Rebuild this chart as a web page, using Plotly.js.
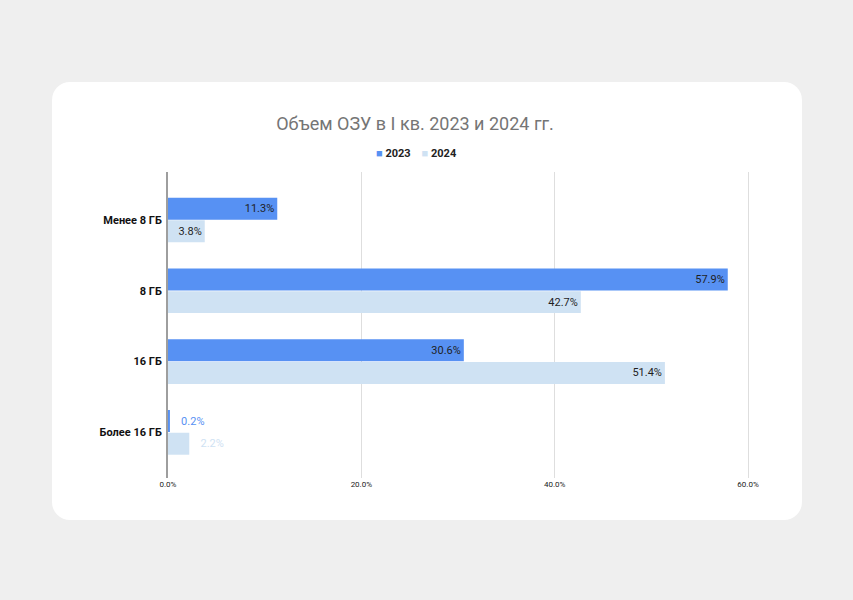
<!DOCTYPE html>
<html>
<head>
<meta charset="utf-8">
<script src="https://cdn.plot.ly/plotly-3.0.1.min.js"></script>
<style>
  html, body { margin: 0; padding: 0; background: #efefef; width: 853px; height: 600px; overflow: hidden; }
  #card { position: absolute; left: 52px; top: 82px; width: 750px; height: 438px; background: #ffffff; border-radius: 18px; }
  #chart { position: absolute; left: 0; top: 0; width: 853px; height: 600px; }
</style>
</head>
<body>
<div id="card"></div>
<div id="chart"></div>
<script>
const categories = ["Менее 8 ГБ", "8 ГБ", "16 ГБ", "Более 16 ГБ"];
const values2023 = [11.3, 57.9, 30.6, 0.2];
const values2024 = [3.8, 42.7, 51.4, 2.2];
const seriesNames = ["2023", "2024"];
const xTickVals = [0, 20, 40, 60];
const xTickText = ["0.0%", "20.0%", "40.0%", "60.0%"];

const seriesColors = ["#5791f3", "#cfe2f3"];
const FONT = "Roboto, Arial, sans-serif";

function makeTrace(name, vals, color) {
  return {
    type: "bar", orientation: "h", name: name,
    y: categories, x: vals,
    marker: { color: color },
    texttemplate: vals.map(v => v < 3 ? "   %{x:.1f}%" : "%{x:.1f}%"),
    textposition: vals.map(v => v < 3 ? "outside" : "inside"),
    insidetextanchor: "end",
    insidetextfont: { color: "#1f1f1f", size: 11, family: FONT },
    outsidetextfont: { color: color, size: 11, family: FONT },
    textangle: 0, cliponaxis: false, hoverinfo: "skip",
    showlegend: false
  };
}

const traces = [
  makeTrace(seriesNames[0], values2023, seriesColors[0]),
  makeTrace(seriesNames[1], values2024, seriesColors[1])
];

const legendText = seriesNames.map((n, i) =>
  '<span style="color:' + seriesColors[i] + '">■</span> <b>' + n + '</b>'
).join('&nbsp;&nbsp;&nbsp;&nbsp;');

const layout = {
  width: 853, height: 600,
  paper_bgcolor: "rgba(0,0,0,0)",
  plot_bgcolor: "rgba(0,0,0,0)",
  margin: { l: 168, r: 103, t: 172, b: 122 },
  font: { family: FONT, color: "#222" },
  title: {
    text: "Объем ОЗУ в I кв. 2023 и 2024 гг.",
    font: { size: 18, color: "#757575", family: FONT },
    xref: "container", yref: "container",
    x: 0.4865, y: 1 - 124/600, xanchor: "center", yanchor: "middle"
  },
  showlegend: false,
  annotations: [{
    xref: "paper", yref: "paper",
    x: (415 - 168) / 579.6, y: 1 + (172 - 153) / 306,
    xanchor: "center", yanchor: "middle",
    showarrow: false,
    text: legendText,
    font: { size: 11, color: "#222", family: FONT }
  }],
  barmode: "group",
  bargap: 0.36,
  bargroupgap: 0.03,
  xaxis: {
    range: [0, 60.2],
    tickvals: xTickVals,
    ticktext: xTickText,
    tickfont: { size: 8, color: "#222" },
    showgrid: true, gridcolor: "#dedede", gridwidth: 1,
    zeroline: false, showline: false, ticks: "",
    fixedrange: true
  },
  yaxis: {
    type: "category",
    range: [3.644, -0.678],
    tickfont: { size: 11, color: "#111", weight: 700 },
    showline: true, linecolor: "#9e9e9e", linewidth: 2,
    showgrid: false, zeroline: false, ticks: "",
    ticklabelstandoff: 2,
    fixedrange: true
  }
};

Plotly.newPlot("chart", traces, layout, { displayModeBar: false, staticPlot: true });
</script>
</body>
</html>
